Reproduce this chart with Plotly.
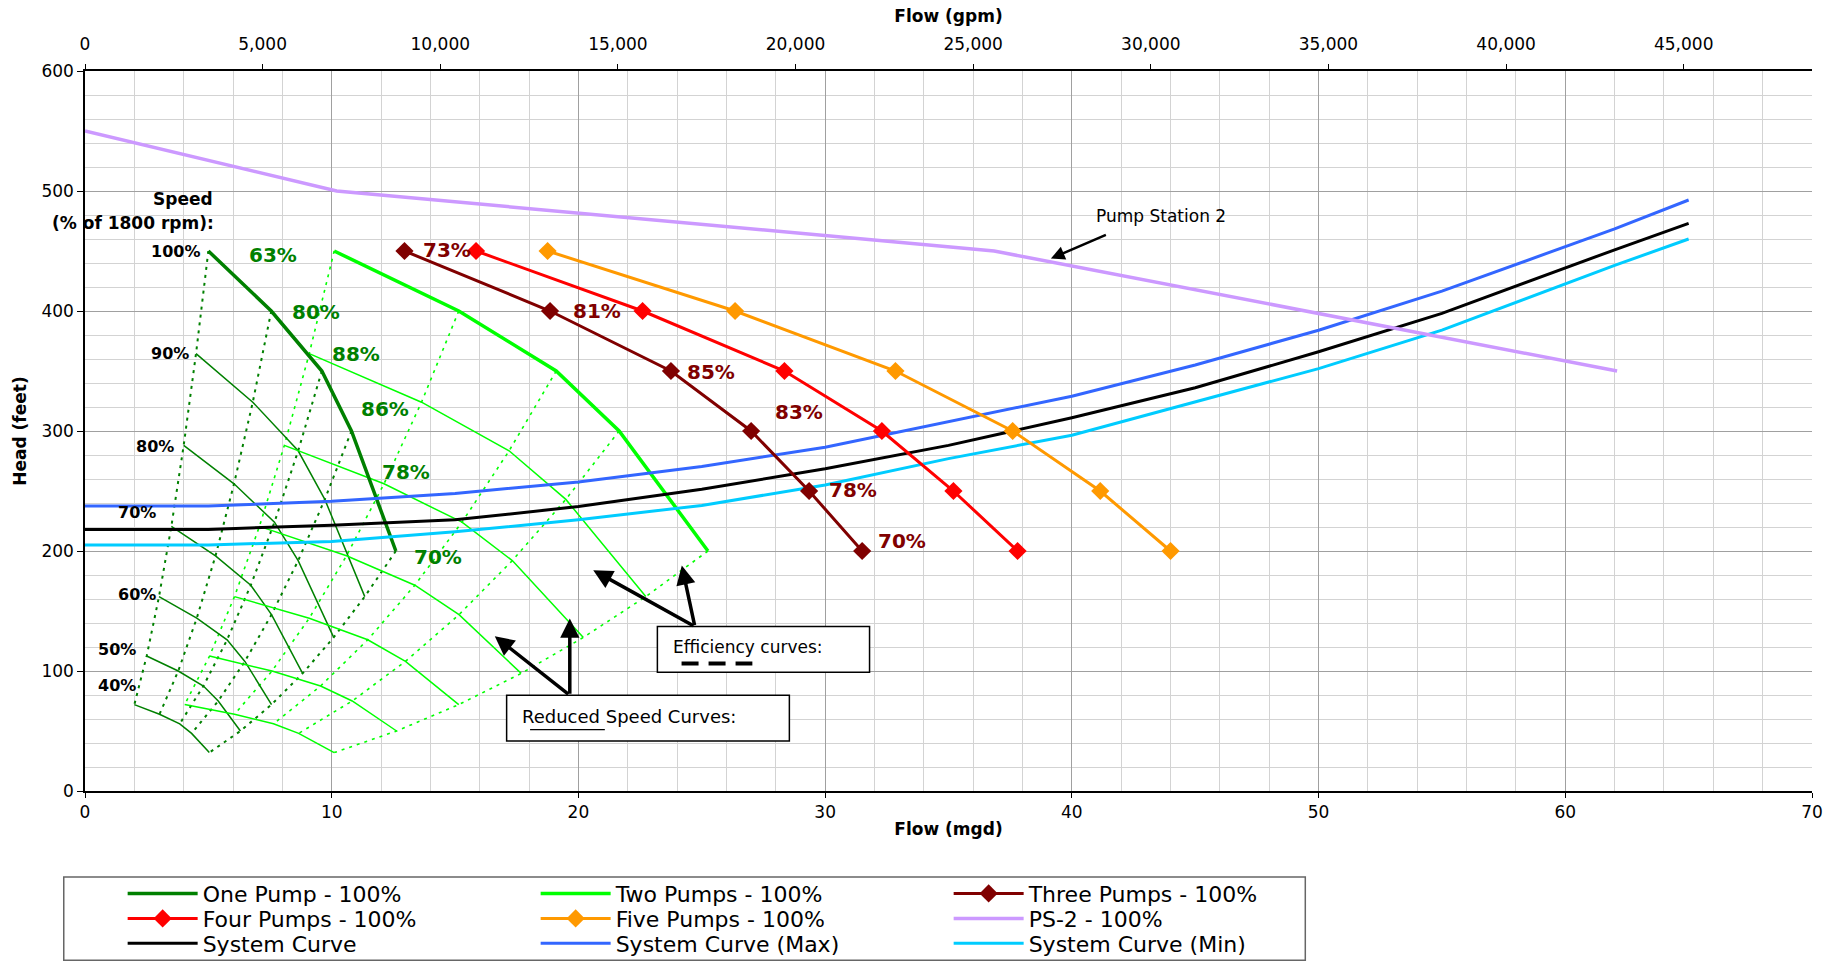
import plotly.graph_objects as go

# ---------------------------------------------------------------------------
# Pump curves at 100 % speed: flow (mgd) and head (feet)
# ---------------------------------------------------------------------------
one_pump_q = [5.0, 7.55, 9.6, 10.8, 12.6]
one_pump_h = [450, 400, 350, 300, 200]

two_pump_q = [10.1, 15.15, 19.1, 21.65, 25.25]
two_pump_h = [450, 400, 350, 300, 200]

three_pump_q = [12.95, 18.85, 23.75, 27.0, 29.35, 31.5]
three_pump_h = [450, 400, 350, 300, 250, 200]

four_pump_q = [15.85, 22.6, 28.35, 32.3, 35.2, 37.8]
four_pump_h = [450, 400, 350, 300, 250, 200]

five_pump_q = [18.75, 26.35, 32.85, 37.6, 41.15, 44.0]
five_pump_h = [450, 400, 350, 300, 250, 200]

ps2_q = [0, 10.2, 36.85, 62.1]
ps2_h = [550, 500, 450, 350]

# System curves
system_q = [0, 5, 10, 15, 20, 25, 30, 35, 40, 45, 50, 55, 62, 65]
system_h = [218, 218, 221.5, 226, 237, 251.5, 268.5, 288, 311, 336, 366, 398, 451, 473]
system_max_h = [237.5, 237.5, 241.5, 248, 257.5, 270.5, 286.5, 308, 329, 355, 384, 416.5, 468.5, 492.5]
system_min_h = [205, 205, 208, 216, 226, 238, 255, 277, 296.5, 324, 352, 384, 438, 460]

# ---------------------------------------------------------------------------
# Reduced speed curves (90 % ... 40 % of 1800 rpm)
# ---------------------------------------------------------------------------
speed_labels = ["100%", "90%", "80%", "70%", "60%", "50%", "40%"]

head_90 = [364.5, 324, 283.5, 243, 162]
head_80 = [288, 256, 224, 192, 128]
head_70 = [220.5, 196, 171.5, 147, 98]
head_60 = [162, 144, 126, 108, 72]
head_50 = [112.5, 100, 87.5, 75, 50]
head_40 = [72, 64, 56, 48, 32]

one_q_90 = [4.5, 6.8, 8.64, 9.72, 11.34]
one_q_80 = [4.0, 6.04, 7.68, 8.64, 10.08]
one_q_70 = [3.5, 5.29, 6.72, 7.56, 8.82]
one_q_60 = [3.0, 4.53, 5.76, 6.48, 7.56]
one_q_50 = [2.5, 3.78, 4.8, 5.4, 6.3]
one_q_40 = [2.0, 3.02, 3.84, 4.32, 5.04]

two_q_90 = [9.09, 13.64, 17.19, 19.49, 22.73]
two_q_80 = [8.08, 12.12, 15.28, 17.32, 20.2]
two_q_70 = [7.07, 10.6, 13.37, 15.16, 17.68]
two_q_60 = [6.06, 9.09, 11.46, 12.99, 15.15]
two_q_50 = [5.05, 7.58, 9.55, 10.83, 12.63]
two_q_40 = [4.04, 6.06, 7.64, 8.66, 10.1]

# Efficiency labels at the operating points
one_two_eff_labels = ["63%", "80%", "88%", "86%", "78%", "70%"]
three_eff_labels = ["73%", "81%", "85%", "83%", "78%", "70%"]

GPM_PER_MGD = 694.444

FONT = "DejaVu Sans, Verdana, Arial, sans-serif"
DARK_GREEN = "#008000"
LIME = "#00FF00"
MAROON = "#800000"
RED = "#FF0000"
ORANGE = "#FF9900"
LAVENDER = "#CC99FF"
BLUE = "#3366FF"
CYAN = "#00CCFF"

fig = go.Figure()

reduced_heads = [head_90, head_80, head_70, head_60, head_50, head_40]
one_reduced = [one_q_90, one_q_80, one_q_70, one_q_60, one_q_50, one_q_40]
two_reduced = [two_q_90, two_q_80, two_q_70, two_q_60, two_q_50, two_q_40]

# Efficiency curves: join the same operating point across every speed
for base_q, base_h, reduced, color, width in [
    (one_pump_q, one_pump_h, one_reduced, DARK_GREEN, 2),
    (two_pump_q, two_pump_h, two_reduced, LIME, 1.6),
]:
    for k in range(len(base_q)):
        xs = [base_q[k]] + [row[k] for row in reduced]
        ys = [base_h[k]] + [row[k] for row in reduced_heads]
        fig.add_trace(go.Scatter(
            x=xs, y=ys, mode="lines", showlegend=False, hoverinfo="skip",
            line=dict(color=color, width=width, dash="3px,5px"),
        ))

# Reduced speed pump curves
for reduced, color in [(one_reduced, DARK_GREEN), (two_reduced, LIME)]:
    for q, h in zip(reduced, reduced_heads):
        fig.add_trace(go.Scatter(
            x=q, y=h, mode="lines", showlegend=False, hoverinfo="skip",
            line=dict(color=color, width=1.5),
        ))

# Full-speed pump curves and system curves; each legend is one row
main_traces = [
    # name, x, y, color, width, diamonds, legend row, column
    ("One Pump - 100%", one_pump_q, one_pump_h, DARK_GREEN, 3.5, False, "legend", 1),
    ("Two Pumps - 100%", two_pump_q, two_pump_h, LIME, 3.5, False, "legend", 2),
    ("System Curve (Max)", system_q, system_max_h, BLUE, 3, False, "legend3", 2),
    ("System Curve", system_q, system_h, "#000000", 3, False, "legend3", 1),
    ("System Curve (Min)", system_q, system_min_h, CYAN, 3, False, "legend3", 3),
    ("PS-2 - 100%", ps2_q, ps2_h, LAVENDER, 3.5, False, "legend2", 3),
    ("Three Pumps - 100%", three_pump_q, three_pump_h, MAROON, 3, True, "legend", 3),
    ("Four Pumps - 100%", four_pump_q, four_pump_h, RED, 3, True, "legend2", 1),
    ("Five Pumps - 100%", five_pump_q, five_pump_h, ORANGE, 3, True, "legend2", 2),
]
for name, q, h, color, width, diamonds, legend, rank in main_traces:
    fig.add_trace(go.Scatter(
        x=q, y=h, name=name, mode="lines+markers" if diamonds else "lines",
        line=dict(color=color, width=width),
        marker=dict(symbol="diamond", size=14, color=color) if diamonds else None,
        legend=legend, legendrank=rank,
    ))

# Carrier for the gpm axis on top
fig.add_trace(go.Scatter(x=[], y=[], xaxis="x2", showlegend=False, hoverinfo="skip"))

annotations = []

def text(x, y, s, size, color="#000000", bold=False, xanchor="center"):
    annotations.append(dict(
        x=x, y=y, xref="x", yref="y", text=f"<b>{s}</b>" if bold else s,
        showarrow=False, xanchor=xanchor, yanchor="middle",
        font=dict(family=FONT, size=size, color=color),
    ))

# Speed labels
text(3.97, 493, "Speed", 17, bold=True)
text(1.95, 473, "(% of 1800 rpm):", 17, bold=True)
speed_label_pos = [(4.75, 450), (4.3, 365), (3.7, 287), (2.95, 232), (2.95, 164), (2.15, 118), (2.15, 88)]
for lab, (sx, sy) in zip(speed_labels, speed_label_pos):
    text(sx, sy, lab, 16, bold=True, xanchor="right")

# Efficiency labels
green_pos = [(7.62, 447), (9.38, 399), (11.0, 364), (12.15, 318), (13.0, 266), (14.3, 195)]
for lab, (lx, ly) in zip(one_two_eff_labels, green_pos):
    text(lx, ly, lab, 20, color=DARK_GREEN, bold=True)
maroon_pos = [(14.68, 451), (20.74, 400), (25.39, 349), (28.95, 316), (31.11, 250.6), (33.12, 208)]
for lab, (lx, ly) in zip(three_eff_labels, maroon_pos):
    text(lx, ly, lab, 20, color=MAROON, bold=True)

# Callout texts
text(40.9, 479, "Pump Station 2", 17, xanchor="left")
text(23.75, 120, "Efficiency curves:", 17, xanchor="left")
text(17.63, 61.7, "Reduced Speed Curves:", 18, xanchor="left")

def arrow(x, y, ax, ay, width=3.5):
    annotations.append(dict(
        x=x, y=y, ax=ax, ay=ay, xref="x", yref="y", axref="x", ayref="y",
        text="", showarrow=True, arrowhead=2, arrowsize=1.1,
        arrowwidth=width, arrowcolor="#000000", standoff=0,
    ))

arrow(16.61, 129, 19.65, 79.75)
arrow(19.65, 143.7, 19.65, 79.75)
arrow(20.6, 184, 24.72, 137)
arrow(24.19, 188, 24.72, 137)
arrow(39.15, 443.7, 41.44, 463.9, width=2.5)

shapes = [
    # callout boxes
    dict(type="rect", xref="x", yref="y", x0=23.2, x1=31.8, y0=99, y1=137,
         line=dict(color="#000000", width=1.5), fillcolor="#FFFFFF", layer="above"),
    dict(type="rect", xref="x", yref="y", x0=17.09, x1=28.55, y0=41.7, y1=79.75,
         line=dict(color="#000000", width=1.5), fillcolor="#FFFFFF", layer="above"),
    # dashed sample for efficiency curves
    dict(type="line", xref="x", yref="y", x0=24.18, x1=27.05, y0=106.2, y1=106.2,
         line=dict(color="#000000", width=4, dash="17px,10px"), layer="above"),
    # solid sample for reduced speed curves
    dict(type="line", xref="x", yref="y", x0=18.04, x1=21.07, y0=51.2, y1=51.2,
         line=dict(color="#000000", width=1.2), layer="above"),
    # legend frame
    dict(type="rect", xref="paper", yref="paper", x0=-0.0123, x1=0.7066, y0=-0.2351, y1=-0.1194,
         line=dict(color="#666666", width=1.5), fillcolor="rgba(0,0,0,0)"),
]

axis_font = dict(family=FONT, size=17, color="#000000")
title_font = dict(family=FONT, size=17, color="#000000")

legend_common = dict(
    orientation="h", xanchor="left", yanchor="middle", x=0.0218,
    font=dict(family=FONT, size=22, color="#000000"),
    bgcolor="rgba(0,0,0,0)", itemwidth=70, entrywidth=328, entrywidthmode="pixels",
    tracegroupgap=0,
)

fig.update_layout(
    width=1835, height=966,
    margin=dict(l=85, r=23, t=71, b=175, autoexpand=False),
    paper_bgcolor="#FFFFFF", plot_bgcolor="#FFFFFF",
    font=dict(family=FONT, color="#000000"),
    showlegend=True,
    legend=dict(y=-0.1425, **legend_common),
    legend2=dict(y=-0.1772, **legend_common),
    legend3=dict(y=-0.2119, **legend_common),
    xaxis=dict(
        range=[0, 70], tick0=0, dtick=10, showgrid=True, gridcolor="#A0A0A0", gridwidth=1,
        minor=dict(dtick=2, showgrid=True, gridcolor="#D3D3D3", gridwidth=1),
        showline=True, linecolor="#000000", linewidth=1.5, mirror=False,
        ticks="outside", ticklen=5, tickcolor="#000000", zeroline=False,
        tickfont=axis_font, automargin=False,
        title=dict(text="<b>Flow (mgd)</b>", font=title_font, standoff=2),
    ),
    xaxis2=dict(
        overlaying="x", side="top", anchor="y",
        range=[0, 70 * GPM_PER_MGD], tick0=0, dtick=5000, tickformat=",d",
        showgrid=False, zeroline=False, showline=True, linecolor="#000000", linewidth=1.5,
        ticks="outside", ticklen=5, tickcolor="#000000", ticklabelstandoff=7,
        tickfont=dict(family=FONT, size=17, color="#000000"), automargin=False,
        title=dict(text="<b>Flow (gpm)</b>", font=title_font, standoff=8),
    ),
    yaxis=dict(
        range=[0, 600], tick0=0, dtick=100, showgrid=True, gridcolor="#A0A0A0", gridwidth=1,
        minor=dict(dtick=20, showgrid=True, gridcolor="#D3D3D3", gridwidth=1),
        showline=True, linecolor="#000000", linewidth=1.5,
        ticks="outside", ticklen=6, tickcolor="#000000", zeroline=False,
        tickfont=axis_font, automargin=False,
        title=dict(text="<b>Head (feet)</b>", font=title_font, standoff=10),
    ),
    annotations=annotations,
    shapes=shapes,
)

fig.write_html("out.html")
